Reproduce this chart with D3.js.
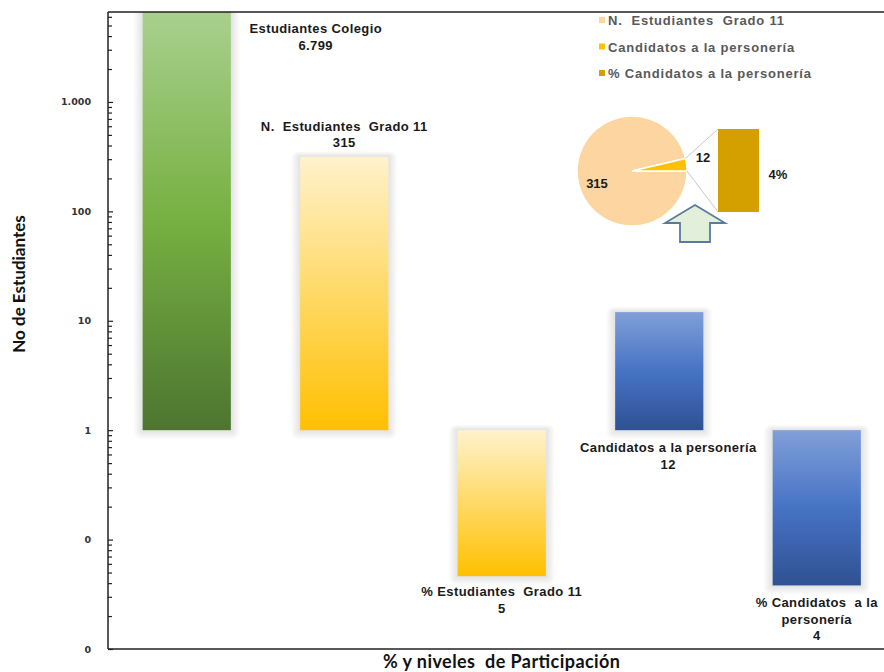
<!DOCTYPE html>
<html>
<head>
<meta charset="utf-8">
<script src="https://cdn.jsdelivr.net/npm/d3@7"></script>
<style>
  body { margin: 0; background: #fff; }
  svg { display: block; }
  text { white-space: pre; }
</style>
</head>
<body>
<div id="chart"></div>
<script>
// data
const categories = ["Estudiantes Colegio", "N.  Estudiantes  Grado 11", "% Estudiantes  Grado 11", "Candidatos a la personería", "% Candidatos  a la personería"];
const values = [6799, 315, 0.0463, 12, 0.0381];
const valueLabels = ["6.799", "315", "5", "12", "4"];
const tickValues = [0.01, 0.1, 1, 10, 100, 1000];
const tickLabels = ["0", "0", "1", "10", "100", "1.000"];
const pieNames = ["N.  Estudiantes  Grado 11", "Candidatos a la personería", "% Candidatos a la personería"];
const pieValues = [315, 12];
const pieBarLabel = "4%";

const W = 884, H = 672;
const margin = { top: 12, left: 108, bottom: 23 };

const svg = d3.select("#chart").append("svg")
    .attr("width", W)
    .attr("height", H);

const defs = svg.append("defs");

function gradient(id, stops) {
    const g = defs.append("linearGradient").attr("id", id)
        .attr("x1", 0).attr("y1", 0).attr("x2", 0).attr("y2", 1);
    stops.forEach(s => g.append("stop").attr("offset", s[0]).attr("stop-color", s[1]));
}
gradient("gGreen", [[0, "#a9d08e"], [0.5, "#76b041"], [1, "#4d7530"]]);
gradient("gYellow", [[0, "#fff2cc"], [0.5, "#ffd966"], [1, "#ffc000"]]);
gradient("gBlue", [[0, "#819fd8"], [0.5, "#4673c5"], [1, "#2f5193"]]);
const fills = ["url(#gGreen)", "url(#gYellow)", "url(#gYellow)", "url(#gBlue)", "url(#gBlue)"];

// scales
const x = d3.scaleBand()
    .domain(categories)
    .range([margin.left, 895.5])
    .paddingInner(0.44)
    .paddingOuter(0.22);

const y = d3.scaleLog()
    .domain([0.01, 6640])
    .range([H - margin.bottom, margin.top])
    .clamp(true);

// bars, from 1 to the value, with a soft grey glow made of stacked rects
const bars = svg.append("g");
categories.forEach((c, i) => {
    const v = values[i];
    const bx = x(c), bw = x.bandwidth();
    const by = Math.min(y(v), y(1)), bh = Math.abs(y(v) - y(1));
    for (let k = 9; k >= 1; k--) {
        bars.append("rect")
            .attr("x", bx - k).attr("y", by - k * 0.6)
            .attr("width", bw + 2 * k).attr("height", bh + k * 1.6)
            .attr("rx", k * 0.8)
            .attr("fill", "#7f7f7f").attr("fill-opacity", 0.022);
    }
    bars.append("rect")
        .attr("x", bx)
        .attr("width", bw)
        .attr("y", by)
        .attr("height", bh)
        .attr("fill", fills[i]);
});

// white out above the plot so the glow does not spill over the border
svg.append("rect").attr("x", 0).attr("y", 0).attr("width", W).attr("height", margin.top).attr("fill", "#fff");

// top border of the plot area
svg.append("line")
    .attr("x1", margin.left).attr("x2", W)
    .attr("y1", margin.top).attr("y2", margin.top)
    .attr("stroke", "#222").attr("stroke-width", 1.3);

// y axis with minor ticks, pointing inward
const minor = [];
for (let e = -2; e <= 3; e++) {
    for (let m = 2; m <= 9; m++) {
        const t = m * Math.pow(10, e);
        if (t < 6640) minor.push(t);
    }
}
svg.append("g")
    .attr("transform", `translate(${margin.left},0)`)
    .call(d3.axisLeft(y).tickValues(minor).tickSize(-4).tickFormat(""))
    .call(g => g.select(".domain").remove())
    .selectAll("line").attr("stroke", "#222").attr("stroke-width", 1.2);

const yAxis = svg.append("g")
    .attr("transform", `translate(${margin.left},0)`)
    .call(d3.axisLeft(y).tickValues(tickValues).tickSize(-5).tickPadding(17)
        .tickFormat((d, i) => tickLabels[i]));
yAxis.select(".domain").attr("d", `M0,${margin.top}V${H - margin.bottom}`).attr("stroke", "#222").attr("stroke-width", 1.5);
yAxis.selectAll("line").attr("stroke", "#222").attr("stroke-width", 1.2);
yAxis.selectAll("text")
    .style("font-family", "'DejaVu Sans', Verdana, sans-serif")
    .style("font-weight", "bold")
    .style("font-size", "9.5px")
    .attr("fill", "#333");

// x axis line
svg.append("line")
    .attr("x1", margin.left).attr("x2", W)
    .attr("y1", H - margin.bottom).attr("y2", H - margin.bottom)
    .attr("stroke", "#222").attr("stroke-width", 1.5);

// data labels
const labelFont = "'Liberation Sans', Arial, sans-serif";
function label(lines, cx, top) {
    const t = svg.append("text")
        .attr("text-anchor", "middle")
        .style("font-family", labelFont)
        .style("font-weight", "bold")
        .style("font-size", "13px")
        .style("letter-spacing", "0.4px")
        .attr("fill", "#1a1a1a");
    lines.forEach((l, k) => t.append("tspan").attr("x", cx).attr("y", top + k * 16.5).text(l));
}
const cx = i => x(categories[i]) + x.bandwidth() / 2;
label(["Estudiantes Colegio", valueLabels[0]], cx(0) + 129, margin.top + 21);
label(["N.  Estudiantes  Grado 11", valueLabels[1]], cx(1), y(values[1]) - 26);
label(["% Estudiantes  Grado 11", valueLabels[2]], cx(2), y(values[2]) + 20);
label(["Candidatos a la personería", valueLabels[3]], cx(3) + 9, y(1) + 22);
label(["% Candidatos  a la", "personería", valueLabels[4]], cx(4), y(values[4]) + 22);

// axis titles
svg.append("text")
    .attr("transform", `translate(25,284) rotate(-90)`)
    .attr("text-anchor", "middle")
    .style("font-family", "Lato, 'Open Sans', sans-serif")
    .style("font-weight", "bold")
    .style("font-size", "17px")
    .attr("fill", "#111")
    .text("No de Estudiantes");

svg.append("text")
    .attr("x", 383).attr("y", 668)
    .attr("textLength", 237)
    .style("font-family", "Lato, 'Open Sans', sans-serif")
    .style("font-weight", "bold")
    .style("font-size", "18px")
    .attr("fill", "#111")
    .text("% y niveles  de Participación");

// inset: pie of bar
const pieColors = ["#fcd5a0", "#ffc000", "#d4a000"];
const pc = [632, 171], r = 55;
const pie = d3.pie().sort(null).startAngle(-1.5 * Math.PI).endAngle(0.5 * Math.PI);
const arcs = pie(pieValues);
const arc = d3.arc().innerRadius(0).outerRadius(r);
const inset = svg.append("g");
inset.append("g").attr("transform", `translate(${pc[0]},${pc[1]})`)
    .selectAll("path").data(arcs).enter().append("path")
    .attr("d", arc)
    .attr("fill", (d, i) => pieColors[i])
    .attr("stroke", "#fff").attr("stroke-width", 1.5);

// broken-out bar and its connector lines
const pb = { x: 718, y: 129, w: 41, h: 83 };
const small = arcs[1];
const p1 = [pc[0] + r * Math.sin(small.startAngle), pc[1] - r * Math.cos(small.startAngle)];
const p2 = [pc[0] + r * Math.sin(small.endAngle), pc[1] - r * Math.cos(small.endAngle)];
inset.append("line").attr("x1", p1[0]).attr("y1", p1[1]).attr("x2", pb.x).attr("y2", pb.y)
    .attr("stroke", "#c8c8c8").attr("stroke-width", 1);
inset.append("line").attr("x1", p2[0]).attr("y1", p2[1]).attr("x2", pb.x).attr("y2", pb.y + pb.h)
    .attr("stroke", "#c8c8c8").attr("stroke-width", 1);
inset.append("rect").attr("x", pb.x).attr("y", pb.y).attr("width", pb.w).attr("height", pb.h)
    .attr("fill", pieColors[2]);

const insetText = (t, px, py) => inset.append("text")
    .attr("x", px).attr("y", py).attr("text-anchor", "middle")
    .style("font-family", labelFont).style("font-weight", "bold").style("font-size", "13px")
    .attr("fill", "#1a1a1a").text(t);
insetText(String(pieValues[0]), 597, 188);
insetText(String(pieValues[1]), 703, 162);
insetText(pieBarLabel, 778, 179);

// hollow up arrow
const arrow = [[695, 205], [725, 223], [710, 223], [710, 242], [680, 242], [680, 223], [665, 223]];
inset.append("path")
    .attr("d", d3.line()(arrow) + "Z")
    .attr("fill", "#e2efda")
    .attr("stroke", "#5a7a9c")
    .attr("stroke-width", 1.8);

// legend
const legend = svg.append("g");
pieNames.forEach((n, i) => {
    const ly = 20 + i * 26.5;
    legend.append("rect").attr("x", 599).attr("y", ly - 3).attr("width", 6).attr("height", 6)
        .attr("fill", pieColors[i]);
    legend.append("text").attr("x", 608).attr("y", ly + 5)
        .style("font-family", labelFont).style("font-weight", "bold").style("font-size", "13px")
        .style("letter-spacing", "0.8px")
        .attr("fill", "#595959").text(n);
});
</script>
</body>
</html>
